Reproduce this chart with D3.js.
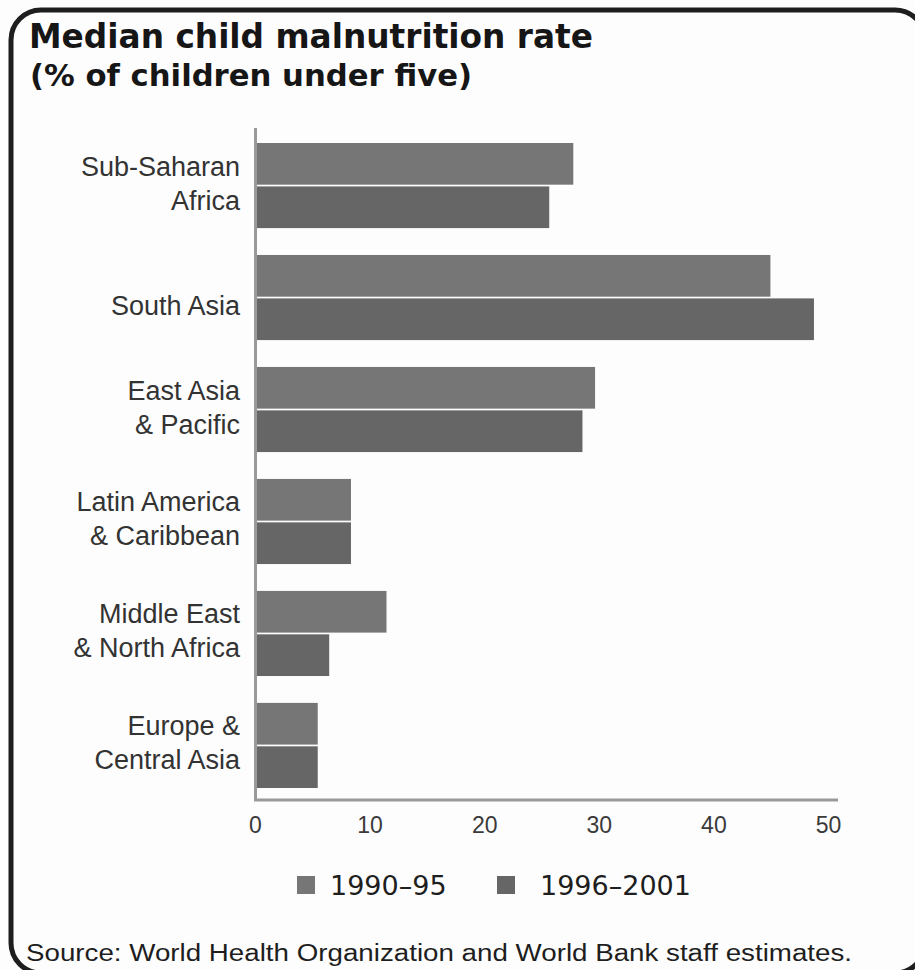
<!DOCTYPE html>
<html>
<head>
<meta charset="utf-8">
<script src="https://cdn.jsdelivr.net/npm/d3@7"></script>
<style>
  html, body { margin: 0; padding: 0; background: #fdfdfd; }
  svg { display: block; }
</style>
</head>
<body>
<svg id="chart" width="915" height="970"></svg>
<script>
const titleLines = ["Median child malnutrition rate", "(% of children under five)"];
const categories = ["Sub-Saharan Africa", "South Asia", "East Asia & Pacific", "Latin America & Caribbean", "Middle East & North Africa", "Europe & Central Asia"];
const categoryLines = [["Sub-Saharan", "Africa"], ["South Asia"], ["East Asia", "& Pacific"], ["Latin America", "& Caribbean"], ["Middle East", "& North Africa"], ["Europe &", "Central Asia"]];
const seriesNames = ["1990–95", "1996–2001"];
const values1990_95 = [27.6, 44.8, 29.5, 8.2, 11.3, 5.3];
const values1996_2001 = [25.5, 48.6, 28.4, 8.2, 6.3, 5.3];
const xTicks = [0, 10, 20, 30, 40, 50];
const sourceText = "Source: World Health Organization and World Bank staff estimates.";
const seriesColors = ["#767676", "#666666"];

const svg = d3.select("#chart");

// frame
svg.append("rect")
  .attr("x", 11).attr("y", 10).attr("width", 914).attr("height", 963)
  .attr("rx", 30).attr("ry", 30)
  .attr("fill", "#fdfdfd").attr("stroke", "#1e1e1e").attr("stroke-width", 5);

// title
svg.append("text").attr("x", 29).attr("y", 48)
  .attr("font-family", "DejaVu Sans").attr("font-weight", "bold").attr("font-size", 33)
  .attr("fill", "#161616").attr("textLength", 564).attr("lengthAdjust", "spacingAndGlyphs")
  .text(titleLines[0]);
svg.append("text").attr("x", 30).attr("y", 86)
  .attr("font-family", "DejaVu Sans").attr("font-weight", "bold").attr("font-size", 30)
  .attr("fill", "#161616").attr("textLength", 442).attr("lengthAdjust", "spacingAndGlyphs")
  .text(titleLines[1]);

const x = d3.scaleLinear().domain([0, 50]).range([257, 830]);
const y = d3.scaleBand().domain(categories).range([143, 788]).paddingInner(0.24).paddingOuter(0);
const ySub = d3.scaleBand().domain(seriesNames).range([0, y.bandwidth()]).paddingInner(0.04);

const data = categories.map((c, i) => ({ cat: c, vals: [values1990_95[i], values1996_2001[i]] }));

const groups = svg.append("g").selectAll("g").data(data).join("g")
  .attr("transform", d => `translate(0,${y(d.cat)})`);
groups.selectAll("rect").data(d => d.vals.map((v, k) => ({ v, s: seriesNames[k], k })))
  .join("rect")
  .attr("x", x(0))
  .attr("y", d => ySub(d.s))
  .attr("width", d => x(d.v) - x(0))
  .attr("height", ySub.bandwidth())
  .attr("fill", d => seriesColors[d.k]);

// axes lines
svg.append("line").attr("x1", x(0) - 1.5).attr("x2", x(0) - 1.5).attr("y1", 128).attr("y2", 801)
  .attr("stroke", "#9a9a9a").attr("stroke-width", 3);
svg.append("line").attr("x1", x(0) - 3).attr("x2", 838).attr("y1", 800).attr("y2", 800)
  .attr("stroke", "#9a9a9a").attr("stroke-width", 3);

// x tick labels via axis
const xAxis = d3.axisBottom(x).tickValues(xTicks).tickSize(0).tickPadding(0).tickFormat(d3.format("d"));
const gx = svg.append("g").attr("transform", "translate(-2,817)").call(xAxis);
gx.select(".domain").remove();
gx.selectAll("text").attr("font-family", "Liberation Sans").attr("font-size", 23)
  .attr("fill", "#3a3a3a").attr("dy", "0.71em");

// category labels
const lineOffsets = { 1: [17], 2: [-10, 24] };
const labels = svg.append("g").selectAll("text").data(data).join("text")
  .attr("font-family", "Liberation Sans").attr("font-size", 27).attr("fill", "#333333")
  .attr("text-anchor", "end");
labels.each(function (d, i) {
  const lines = categoryLines[i];
  const cy = y(d.cat) + y.bandwidth() / 2;
  const offs = lineOffsets[lines.length];
  d3.select(this).selectAll("tspan").data(lines).join("tspan")
    .attr("x", 240).attr("y", (l, j) => cy + offs[j]).text(l => l);
});

// legend
const legend = svg.append("g");
const legendX = [297, 497];
seriesNames.forEach((s, k) => {
  legend.append("rect").attr("x", legendX[k]).attr("y", 876).attr("width", 18).attr("height", 18)
    .attr("fill", seriesColors[k]);
  legend.append("text").attr("x", k === 0 ? 330 : 540).attr("y", 895)
    .attr("font-family", "DejaVu Sans").attr("font-size", 27).attr("fill", "#1e1e1e")
    .text(s);
});

// source
svg.append("text").attr("x", 26).attr("y", 961)
  .attr("font-family", "Liberation Sans").attr("font-size", 23).attr("fill", "#1e1e1e")
  .attr("textLength", 826).attr("lengthAdjust", "spacingAndGlyphs")
  .text(sourceText);
</script>
</body>
</html>
